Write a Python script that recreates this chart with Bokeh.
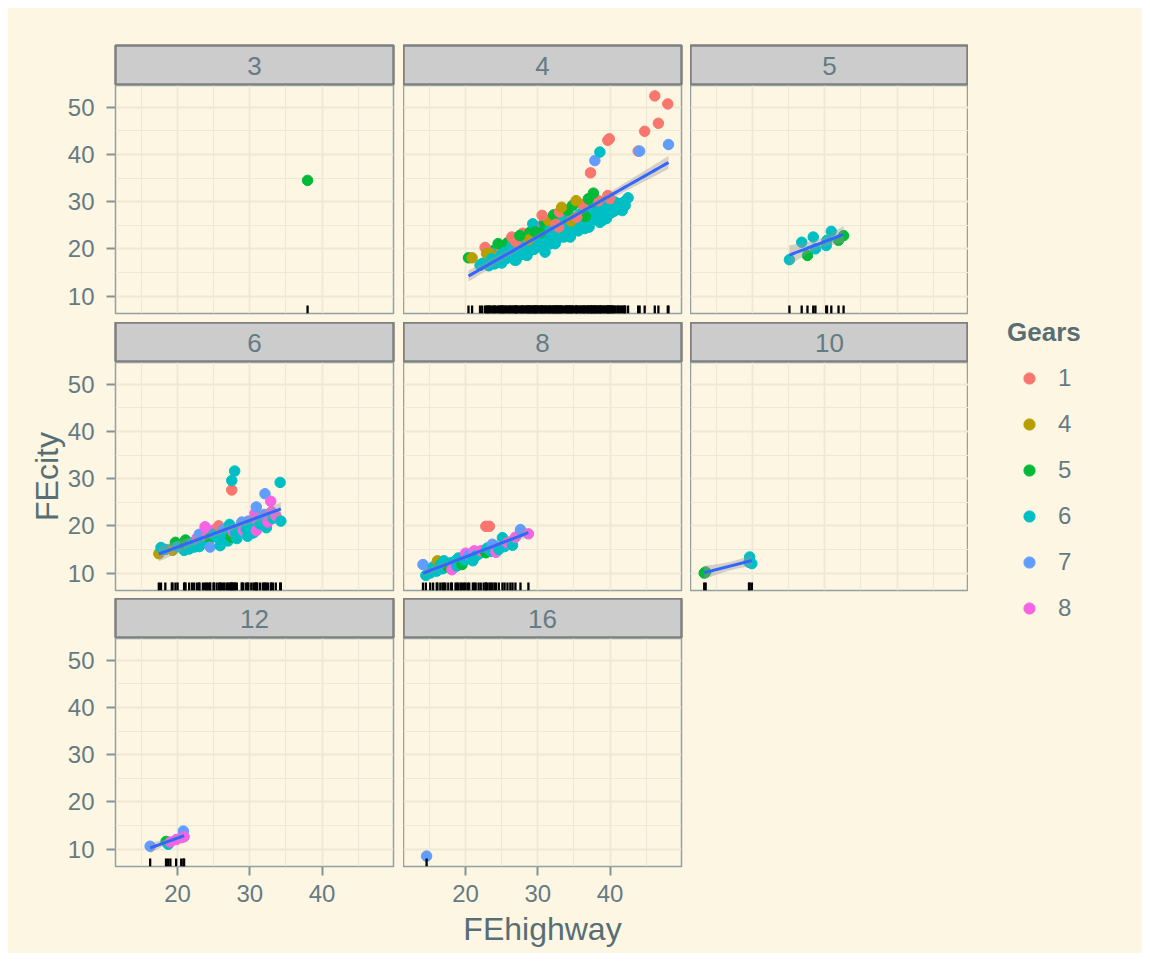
import numpy as np
from bokeh.plotting import figure
from bokeh.layouts import row, column
from bokeh.models import ColumnDataSource, Range1d, FixedTicker, Legend, LegendItem, Spacer
from bokeh.core.properties import value
from bokeh.transform import factor_cmap
from bokeh.embed import file_html
from bokeh.resources import INLINE

# ---------------- data ----------------
gear_levels = ["1", "4", "5", "6", "7", "8"]
gear_colors = ["#F8766D", "#B79F00", "#00BA38", "#00BFC4", "#619CFF", "#F564E3"]
cyl_levels = ["3", "4", "5", "6", "8", "10", "12", "16"]
x_ticks = [20, 30, 40]
y_ticks = [10, 20, 30, 40, 50]

hwy3 = [38.0]
city3 = [34.5]
gear3 = [5]

hwy4 = [29.8, 26.7, 29.9,
        23.0, 23.2, 23.8, 24.0, 24.2, 24.6, 24.9, 25.1, 25.3, 25.6,
        25.8, 26.0, 26.2, 26.5, 27.1, 27.3, 27.6, 27.8, 27.9,
        28.1, 28.3, 28.6, 28.8, 28.9, 29.1, 29.3, 29.5, 29.7,
        30.1, 30.3, 30.5, 30.7, 30.9, 31.2, 31.4, 31.6, 31.8, 31.5,
        32.1, 32.3, 32.6, 32.8, 32.2, 33.1, 33.4, 33.6, 33.8, 33.0,
        34.0, 34.2, 34.4, 34.7, 34.1, 35.1, 35.3, 35.6, 35.8, 36.0,
        36.3, 36.5, 36.8, 36.2, 37.3, 37.5, 37.8, 37.6, 38.1, 38.3,
        38.6, 38.8, 38.4, 39.1, 39.3, 39.5, 39.8, 40.1, 40.4, 40.7,
        40.0, 41.0, 41.3, 41.9, 42.1, 23.2, 24.0, 25.0,
        25.2, 26.1, 27.0, 27.9, 28.4, 29.0, 29.6, 30.0, 30.6, 31.1,
        31.7, 32.0, 32.7, 33.2, 33.9, 34.3, 34.9, 35.4, 35.9, 36.4,
        36.9, 37.4, 37.9, 38.2, 38.7, 39.2, 39.6, 40.2, 40.6, 41.1,
        41.5, 42.0, 36.6, 34.6, 32.9, 30.4, 28.7, 26.9,
        20.4, 20.9, 22.0, 22.3, 22.7, 22.9, 23.4, 23.6, 24.5, 24.8,
        25.5, 26.4, 26.8, 27.0, 27.5, 28.5, 29.3, 29.6, 30.6,
        31.0, 32.4, 32.5, 33.3, 34.5, 34.8, 35.3, 35.4, 37.0, 37.1,
        37.7, 38.9, 39.7, 40.3, 41.7, 42.5,
        37.3, 37.9, 38.6, 39.7, 39.9, 43.9, 44.1, 44.8, 46.2, 46.7, 48.0, 48.1]
city4 = [24.7, 18.2, 21.3,
         17.5, 18.6, 19.6, 18.2, 19.4, 17.2, 20.2, 19.0, 20.4, 17.9,
         21.3, 18.9, 20.0, 21.0, 19.6, 20.8, 21.8, 18.8, 23.3,
         20.3, 21.4, 22.4, 19.4, 23.5, 20.8, 22.0, 19.9, 23.0,
         21.6, 22.8, 20.4, 24.0, 25.6, 22.3, 23.4, 21.0, 24.6, 26.0,
         22.8, 24.0, 21.9, 25.5, 27.2, 23.4, 24.8, 22.5, 26.3, 27.8,
         24.0, 25.4, 23.2, 26.8, 28.2, 24.6, 25.8, 23.8, 27.4, 25.2,
         26.4, 24.3, 27.8, 29.4, 25.8, 27.0, 28.4, 29.8, 26.4, 27.5,
         25.6, 28.8, 30.2, 27.0, 28.2, 26.4, 29.4, 27.6, 28.8, 29.9,
         30.6, 28.4, 29.6, 29.8, 29.2, 16.4, 16.8, 17.0,
         18.6, 19.4, 20.2, 20.0, 20.9, 21.5, 21.0, 22.2, 21.8, 23.0,
         22.6, 23.6, 23.2, 24.2, 23.8, 24.8, 24.4, 25.4, 25.0, 25.9,
         25.6, 26.6, 26.2, 27.2, 26.9, 27.8, 27.5, 28.3, 28.0, 29.0,
         28.7, 30.0, 26.8, 25.9, 24.6, 23.4, 21.9, 21.6,
         18.1, 18.1, 16.5, 16.9, 20.3, 19.0, 19.0, 17.9, 21.1, 17.6,
         18.3, 22.5, 17.6, 17.6, 22.8, 18.6, 25.3, 23.6, 27.1,
         19.3, 21.1, 25.2, 28.8, 22.5, 29.2, 30.2, 26.7, 30.6, 24.6,
         31.8, 26.0, 31.3, 27.8, 28.1, 30.8,
         36.1, 38.7, 40.5, 43.0, 43.3, 40.7, 40.7, 44.9, 52.4, 46.6, 50.7, 42.1]
gear4 = [8, 8, 8,
         6, 6, 5, 6, 6, 6, 1, 6, 6, 6,
         5, 6, 6, 6, 6, 6, 6, 6, 1,
         6, 7, 6, 6, 5, 6, 6, 6, 6,
         6, 6, 6, 6, 5, 6, 6, 6, 6, 4,
         6, 6, 6, 6, 5, 6, 6, 6, 6, 1,
         6, 6, 6, 6, 5, 6, 6, 6, 6, 6,
         6, 6, 6, 1, 6, 6, 6, 5, 6, 6,
         6, 6, 1, 6, 6, 6, 6, 6, 6, 6,
         1, 6, 6, 6, 6, 6, 6, 6,
         6, 6, 6, 6, 6, 6, 6, 6, 6, 6,
         6, 6, 6, 6, 6, 6, 6, 6, 6, 6,
         6, 6, 6, 6, 6, 6, 6, 6, 6, 6,
         6, 6, 5, 4, 1, 5, 4, 1,
         5, 4, 6, 6, 1, 4, 4, 6, 5, 6,
         6, 1, 6, 6, 5, 6, 6, 5, 1,
         6, 6, 1, 4, 6, 5, 4, 1, 5, 6,
         5, 6, 1, 6, 6, 6,
         1, 7, 6, 1, 1, 1, 7, 1, 1, 1, 1, 7]

hwy5 = [25.1, 26.8, 27.6, 28.4, 28.7, 30.2, 30.3, 30.9, 31.9, 32.6]
city5 = [17.7, 21.4, 18.6, 22.5, 20.0, 20.7, 21.8, 23.7, 21.8, 22.8]
gear5 = [6, 6, 5, 6, 6, 6, 6, 6, 5, 5]

hwy6 = [17.4, 17.7, 18.3, 19.2, 19.3, 19.7, 20.0, 20.9, 21.0, 21.1,
        21.6, 22.0, 22.3, 22.7, 23.0, 23.0, 23.5, 23.8, 24.0, 24.2,
        24.5, 24.5, 25.0, 25.0, 25.4, 25.7, 25.9, 26.0, 26.3, 26.5,
        26.8, 27.0, 27.2, 27.4, 27.7, 28.0, 28.2, 28.9, 28.9, 29.1,
        29.5, 29.7, 29.8, 30.2, 30.5, 30.7, 30.9, 30.9, 31.0, 31.4,
        31.8, 32.0, 32.3, 32.5, 33.0, 33.2, 33.6, 32.1, 32.9, 34.3,
        34.2, 27.5, 27.5, 27.9]
city6 = [14.1, 15.4, 15.0, 15.1, 14.8, 16.5, 15.6, 14.8, 16.0, 17.0,
         15.1, 16.4, 15.5, 17.4, 18.2, 15.6, 16.8, 19.8, 17.8, 16.2,
         17.4, 15.5, 19.1, 18.2, 17.6, 20.0, 15.8, 18.0, 19.2, 17.0,
         18.6, 16.8, 20.3, 17.6, 18.7, 18.5, 17.3, 19.7, 20.8, 19.0,
         19.4, 17.8, 21.0, 20.0, 18.5, 22.6, 24.0, 19.0, 21.2, 20.4,
         21.6, 22.4, 19.6, 20.8, 23.0, 21.6, 22.2, 26.8, 25.2, 21.0,
         29.2, 27.6, 29.6, 31.6]
gear6 = [4, 6, 6, 6, 4, 5, 6, 6, 5, 5,
         6, 6, 6, 8, 7, 6, 6, 8, 8, 6,
         5, 7, 8, 6, 6, 1, 6, 6, 7, 6,
         6, 6, 6, 5, 8, 6, 6, 6, 7, 8,
         6, 6, 7, 6, 6, 8, 7, 8, 8, 6,
         6, 7, 6, 8, 8, 6, 8, 7, 8, 6,
         6, 1, 6, 6]

hwy8 = [14.1, 14.5, 15.1, 15.5, 16.0, 16.1, 16.5, 16.8, 17.0, 17.2,
        17.6, 18.0, 18.1, 18.6, 18.8, 19.0, 19.3, 19.5, 19.8, 20.0,
        20.3, 20.5, 21.0, 21.2, 21.4, 21.8, 22.1, 22.5, 22.8, 23.0,
        23.5, 23.7, 24.0, 24.2, 24.6, 25.1, 25.4, 25.8, 26.2, 26.5,
        26.9, 27.6, 28.7, 22.8, 23.3]
city8 = [11.8, 9.5, 10.0, 11.3, 10.4, 12.6, 11.8, 10.9, 12.6, 11.9,
         11.2, 12.2, 10.7, 12.6, 11.5, 13.2, 12.3, 11.8, 12.8, 14.2,
         13.0, 13.8, 12.6, 14.7, 13.6, 14.0, 14.7, 14.8, 14.3, 15.3,
         14.6, 16.1, 15.8, 14.4, 15.0, 17.5, 15.6, 16.4, 16.6, 15.9,
         17.6, 19.2, 18.3, 19.9, 19.9]
gear8 = [7, 6, 6, 6, 6, 4, 6, 6, 6, 6,
         5, 6, 8, 6, 6, 6, 6, 5, 6, 8,
         6, 7, 6, 8, 6, 6, 8, 8, 5, 6,
         6, 7, 7, 8, 6, 6, 6, 8, 8, 6,
         8, 7, 8, 1, 1]

hwy10 = [13.3, 13.5, 19.5, 19.6, 19.9]
city10 = [10.0, 10.2, 12.3, 13.4, 12.0]
gear10 = [5, 5, 6, 6, 6]

hwy12 = [16.2, 18.4, 18.7, 19.0, 19.8, 20.5, 20.8, 20.9]
city12 = [10.6, 11.6, 11.0, 11.5, 12.0, 12.4, 13.8, 12.6]
gear12 = [7, 5, 6, 8, 8, 8, 7, 8]

hwy16 = [14.6]
city16 = [8.5]
gear16 = [7]

panel_data = {
    "3": (hwy3, city3, gear3), "4": (hwy4, city4, gear4), "5": (hwy5, city5, gear5),
    "6": (hwy6, city6, gear6), "8": (hwy8, city8, gear8), "10": (hwy10, city10, gear10),
    "12": (hwy12, city12, gear12), "16": (hwy16, city16, gear16),
}

# ---------------- style ----------------
BG = "#fdf6e3"
GRID = "#eee8d5"
FONT = "Liberation Sans"
TXT = "#657b83"
TTL = "#586e75"
XR = (11.4, 49.9)
YR = (6.3, 54.6)
RUG = 1.7


def t975(df):
    z = 1.959964
    g1 = (z**3 + z) / 4
    g2 = (5 * z**5 + 16 * z**3 + 3 * z) / 96
    g3 = (3 * z**7 + 19 * z**5 + 17 * z**3 - 15 * z) / 384
    g4 = (79 * z**9 + 776 * z**7 + 1482 * z**5 - 1920 * z**3 - 945 * z) / 92160
    return z + g1 / df + g2 / df**2 + g3 / df**3 + g4 / df**4


def add_smooth(p, hwy, city):
    x = np.asarray(hwy, float)
    y = np.asarray(city, float)
    n = len(x)
    if n < 3:
        return
    b, a = np.polyfit(x, y, 1)
    xs = np.linspace(x.min(), x.max(), 80)
    yhat = a + b * xs
    resid = y - (a + b * x)
    s = np.sqrt((resid ** 2).sum() / (n - 2))
    sxx = ((x - x.mean()) ** 2).sum()
    se = s * np.sqrt(1.0 / n + (xs - x.mean()) ** 2 / sxx)
    t = t975(n - 2)
    p.varea(x=xs, y1=yhat - t * se, y2=yhat + t * se, fill_color="#999999", fill_alpha=0.4)
    p.line(xs, yhat, line_color="#3366FF", line_width=3)


def style_axis(ax):
    ax.axis_line_color = None
    ax.major_tick_line_color = "#839496"
    ax.major_tick_line_width = 2
    ax.major_tick_out = 9
    ax.major_tick_in = 0
    ax.minor_tick_line_color = None
    ax.major_label_text_font = FONT
    ax.major_label_text_font_size = "24px"
    ax.major_label_text_color = TXT
    ax.axis_label_text_font = FONT
    ax.axis_label_text_font_size = "32px"
    ax.axis_label_text_font_style = "normal"
    ax.axis_label_text_color = TTL


def make_panel(cyl, width, height, mbl, mbr, mbb, show_x, show_y, xlabel=None, ylabel=None):
    p = figure(width=width, height=height, x_range=Range1d(*XR), y_range=Range1d(*YR),
               output_backend="svg", toolbar_location=None,
               x_axis_location="below" if show_x else None,
               y_axis_location="left" if show_y else None,
               min_border_left=mbl, min_border_right=mbr, min_border_top=0, min_border_bottom=mbb,
               background_fill_color=BG, border_fill_color=BG,
               outline_line_color="#93a1a1", outline_line_width=1.5)
    p.xgrid.ticker = FixedTicker(ticks=x_ticks, minor_ticks=[15, 25, 35, 45])
    p.ygrid.ticker = FixedTicker(ticks=y_ticks, minor_ticks=[15, 25, 35, 45])
    p.grid.grid_line_color = GRID
    p.grid.grid_line_width = 1.8
    p.grid.minor_grid_line_color = GRID
    p.grid.minor_grid_line_width = 1.1
    if show_x:
        p.xaxis.ticker = FixedTicker(ticks=x_ticks)
        style_axis(p.xaxis[0])
        p.xaxis.major_label_standoff = 9
        p.xaxis.axis_label_standoff = 6
        if xlabel:
            p.xaxis.axis_label = xlabel
    if show_y:
        p.yaxis.ticker = FixedTicker(ticks=y_ticks)
        style_axis(p.yaxis[0])
        p.yaxis.major_label_standoff = 12
        p.yaxis.axis_label_standoff = 0
        if ylabel:
            p.yaxis.axis_label = ylabel

    hwy, city, gear = panel_data[cyl]
    src = ColumnDataSource(dict(hwy=hwy, city=city, gear=[str(g) for g in gear]))
    p.scatter("hwy", "city", source=src, size=10.5,
              color=factor_cmap("gear", gear_colors, gear_levels))
    add_smooth(p, hwy, city)
    p.segment(x0="hwy", y0=YR[0], x1="hwy", y1=YR[0] + RUG, source=src,
              line_color="black", line_width=2.3)
    return p


def make_strip(label, width, height, mbl, mbr, mbt):
    s = figure(width=width, height=height, x_range=Range1d(0, 1), y_range=Range1d(0, 1),
               output_backend="svg", toolbar_location=None,
               x_axis_location=None, y_axis_location=None,
               min_border_left=mbl, min_border_right=mbr, min_border_top=mbt, min_border_bottom=0,
               background_fill_color="#cccccc", border_fill_color=BG,
               outline_line_color="#7f7f7f", outline_line_width=2.5)
    s.grid.visible = False
    s.text(x=[0.5], y=[0.5], text=[label], text_align="center", text_baseline="middle",
           text_font=value(FONT), text_font_size="26px", text_color=TXT)
    return s


def blank(width, height):
    b = figure(width=width, height=height, x_range=Range1d(0, 1), y_range=Range1d(0, 1),
               output_backend="svg", toolbar_location=None,
               x_axis_location=None, y_axis_location=None, min_border=0,
               background_fill_color=BG, border_fill_color=BG, outline_line_color=None)
    b.grid.visible = False
    return b


# column specs: (figure width, min_border_left, min_border_right)
cols = [(395, 107, 10), (287, 0, 9), (278, 0, 0)]
# row specs: (strip height, strip top border, panel height, panel bottom border)
rows_spec = [(77, 37, 237, 9), (40, 0, 236, 8), (40, 0, 315, 87)]
layout_cells = [["3", "4", "5"], ["6", "8", "10"], ["12", "16", None]]

row_objs = []
for ri, cells in enumerate(layout_cells):
    sh, smt, ph, pmb = rows_spec[ri]
    children = []
    for ci, cyl in enumerate(cells):
        w, mbl, mbr = cols[ci]
        if cyl is None:
            children.append(blank(w, sh + ph))
            continue
        show_x = ri == 2
        show_y = ci == 0
        st = make_strip(cyl, w, sh, mbl, mbr, smt)
        pn = make_panel(cyl, w, ph, mbl, mbr, pmb, show_x, show_y,
                        xlabel="FEhighway" if cyl == "16" else None,
                        ylabel="FEcity" if cyl == "6" else None)
        children.append(column(st, pn, styles={"background-color": BG}))
    row_objs.append(row(*children, styles={"background-color": BG}))

grid = column(*row_objs, styles={"background-color": BG})

# legend figure
lf = figure(width=174, height=945, x_range=Range1d(0, 1), y_range=Range1d(0, 1),
            output_backend="svg", toolbar_location=None,
            x_axis_location=None, y_axis_location=None, min_border=0,
            background_fill_color=BG, border_fill_color=BG, outline_line_color=None)
lf.grid.visible = False
items = []
for lvl, colr in zip(gear_levels, gear_colors):
    r = lf.scatter(x=[-5], y=[-5], size=10, color=colr)
    items.append(LegendItem(label=lvl, renderers=[r]))
leg = Legend(items=items, location=(39, 331), title="Gears",
             title_text_font=FONT, title_text_font_size="26px", title_text_font_style="bold",
             title_text_color=TTL, title_standoff=16,
             label_text_font=FONT, label_text_font_size="24px", label_text_color=TXT,
             glyph_width=44, glyph_height=28, label_height=28, label_standoff=7,
             spacing=18, padding=0, margin=0, border_line_color=None,
             background_fill_alpha=0)
lf.add_layout(leg, "center")

inner = row(grid, lf, styles={"background-color": BG})
page = column(Spacer(width=1150, height=8), row(Spacer(width=8, height=945), inner))
open("out.html", "w").write(file_html(page, INLINE))
